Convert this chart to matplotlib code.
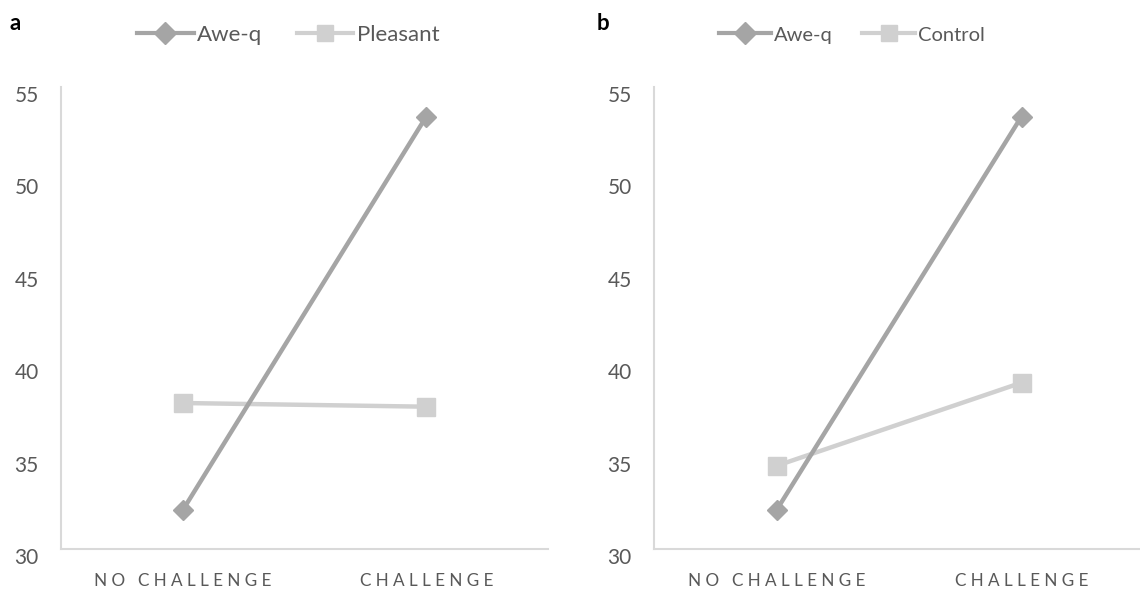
import matplotlib
matplotlib.use("Agg")
import matplotlib.pyplot as plt
import matplotlib.transforms as mtrans
from matplotlib.lines import Line2D

categories = ["NO CHALLENGE", "CHALLENGE"]
awe_a = [32.1, 53.4]
pleasant = [37.9, 37.7]
awe_b = [32.1, 53.4]
control = [34.5, 39.0]
yticks = [30, 35, 40, 45, 50, 55]

DARK = "#A5A5A5"
LIGHT = "#D0D0D0"
TXT = "#595959"
AX = "#D9D9D9"
FONT = ["Lato", "DejaVu Sans"]

plt.rcParams["font.family"] = FONT

W, H = 1140, 592
fig = plt.figure(figsize=(W / 100, H / 100), dpi=100)


def spaced(s):
    return "\u2009\u2009".join(list(s))


def make_panel(x0, x1, label, s1, s2, name2, lab_x, leg_x, leg_fs, hl, cs):
    y_top, y_bot = 87, 549
    ax = fig.add_axes([x0 / W, 1 - y_bot / H, (x1 - x0) / W, (y_bot - y_top) / H])
    xs = [0, 1]
    ax.plot(xs, s2, color=LIGHT, lw=3.2, marker="s", ms=13.5, mec=LIGHT, mfc=LIGHT,
            solid_capstyle="butt", zorder=2)
    ax.plot(xs, s1, color=DARK, lw=3.2, marker="D", ms=10.5, mec=DARK, mfc=DARK,
            solid_capstyle="butt", zorder=3)
    ax.set_xlim(-0.5, 1.5)
    ax.set_ylim(30, 55)
    ax.set_yticks(yticks)
    ax.set_xticks(xs)
    ax.set_xticklabels([spaced(c) for c in categories])
    for sp in ["top", "right"]:
        ax.spines[sp].set_visible(False)
    for sp in ["left", "bottom"]:
        ax.spines[sp].set_color(AX)
        ax.spines[sp].set_linewidth(1.5)
    ax.tick_params(axis="both", length=0, colors=TXT, labelsize=15)
    ax.tick_params(axis="y", pad=16)
    ax.tick_params(axis="x", pad=17, labelsize=12.3)
    off = mtrans.ScaledTranslation(0, -7 / 100, fig.dpi_scale_trans)
    for t in ax.get_yticklabels():
        t.set_transform(t.get_transform() + off)
    fig.text(lab_x / W, 1 - 24 / H, label, fontsize=16, fontweight="bold",
             color="black", va="center", ha="left")
    handles = [
        Line2D([], [], color=DARK, lw=3, marker="D", ms=11, mec=DARK, mfc=DARK),
        Line2D([], [], color=LIGHT, lw=3, marker="s", ms=12, mec=LIGHT, mfc=LIGHT),
    ]
    fig.legend(handles, ["Awe-q", name2], loc="center left",
               bbox_to_anchor=(leg_x / W, 1 - 35 / H), ncol=2, frameon=False,
               fontsize=leg_fs, labelcolor=TXT, handlelength=hl, handletextpad=0.15,
               columnspacing=cs, borderaxespad=0, borderpad=0)
    return ax


make_panel(61, 548, "a", awe_a, pleasant, "Pleasant", 10, 137, 16, 2.55, 1.55)
make_panel(654, 1144, "b", awe_b, control, "Control", 597, 719, 14.5, 2.6, 1.45)

fig.savefig("out.png", dpi=100)
